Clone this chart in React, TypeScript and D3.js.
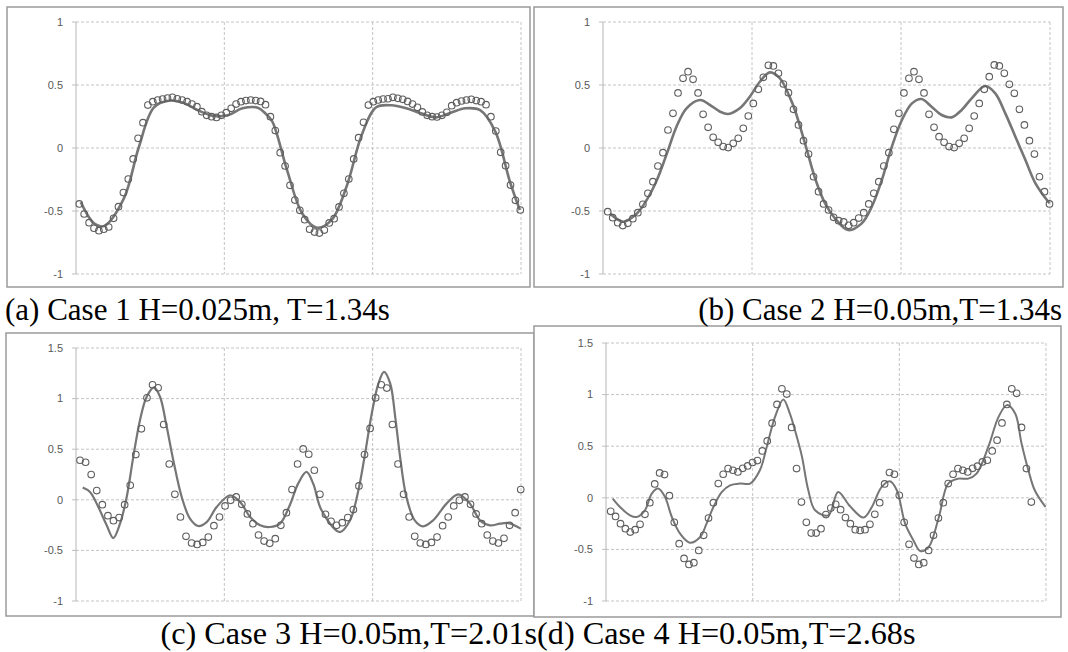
import React from 'react';
import * as d3 from 'd3';

// measured values (circles) and model curve (line) for the four cases
const caseOneObs = [
  -0.444, -0.524, -0.593, -0.637, -0.656, -0.645, -0.627, -0.558, -0.466, -0.354,
  -0.246, -0.087, 0.077, 0.201, 0.341, 0.368, 0.381, 0.389, 0.397, 0.402,
  0.391, 0.381, 0.368, 0.349, 0.328, 0.288, 0.259, 0.249, 0.243, 0.259,
  0.28, 0.315, 0.349, 0.368, 0.376, 0.381, 0.376, 0.37, 0.344, 0.249,
  0.138, -0.037, -0.143, -0.296, -0.413, -0.495, -0.569, -0.645, -0.667, -0.675,
  -0.651, -0.595, -0.561, -0.468, -0.36, -0.246, -0.087, 0.082, 0.204, 0.341,
  0.368, 0.381, 0.389, 0.391, 0.402, 0.394, 0.386, 0.37, 0.349, 0.323,
  0.286, 0.259, 0.249, 0.246, 0.259, 0.283, 0.336, 0.36, 0.373, 0.381,
  0.386, 0.376, 0.368, 0.344, 0.249, 0.135, -0.034, -0.14, -0.294, -0.415,
  -0.492,
];
const caseOneModel: [number, number][] = [
  [0.3, -0.43], [3.0, -0.598], [5.0, -0.62], [9.1, -0.4], [12.1, 0.0], [15.2, 0.32],
  [18.2, 0.375], [21.2, 0.36], [24.2, 0.3], [27.3, 0.255], [30.3, 0.26], [33.3, 0.315],
  [36.4, 0.32], [38.1, 0.27], [39.4, 0.21], [42.4, -0.175], [45.5, -0.52], [48.5, -0.633],
  [51.5, -0.571], [54.6, -0.3], [57.6, 0.1], [60.6, 0.323], [63.7, 0.339], [66.7, 0.315],
  [69.7, 0.275], [72.7, 0.243], [75.8, 0.28], [78.8, 0.315], [81.8, 0.3], [84.9, 0.13],
  [87.9, -0.27], [89.9, -0.492],
];

const caseTwoObs = [
  -0.505, -0.553, -0.593, -0.616, -0.598, -0.561, -0.513, -0.447, -0.36, -0.267,
  -0.143, -0.037, 0.143, 0.275, 0.437, 0.553, 0.606, 0.545, 0.437, 0.267,
  0.164, 0.085, 0.045, 0.011, 0.003, 0.037, 0.077, 0.156, 0.254, 0.354,
  0.466, 0.561, 0.656, 0.651, 0.593, 0.508, 0.439, 0.307, 0.183, 0.058,
  -0.048, -0.228, -0.347, -0.444, -0.492, -0.55, -0.577, -0.587, -0.614, -0.593,
  -0.556, -0.513, -0.444, -0.36, -0.267, -0.143, -0.037, 0.148, 0.275, 0.437,
  0.553, 0.606, 0.545, 0.437, 0.267, 0.164, 0.09, 0.045, 0.011, 0.003,
  0.037, 0.077, 0.156, 0.254, 0.354, 0.466, 0.566, 0.659, 0.651, 0.593,
  0.505, 0.434, 0.307, 0.183, 0.058, -0.048, -0.228, -0.347, -0.444,
];
const caseTwoModel: [number, number][] = [
  [0.46, -0.52], [3.1, -0.585], [5.8, -0.52], [7.8, -0.41], [9.8, -0.254], [11.8, -0.042],
  [13.7, 0.169], [15.7, 0.315], [18.4, 0.381], [20.4, 0.341], [22.4, 0.288], [24.0, 0.27],
  [26.3, 0.315], [28.3, 0.407], [30.3, 0.526], [32.3, 0.6], [34.3, 0.553], [36.3, 0.4],
  [37.3, 0.3], [39.3, 0.037], [41.3, -0.24], [43.3, -0.44], [45.3, -0.56], [47.9, -0.651],
  [50.6, -0.598], [52.6, -0.466], [54.6, -0.254], [56.6, 0.011], [58.6, 0.222], [60.6, 0.354],
  [62.5, 0.389], [64.5, 0.328], [66.5, 0.262], [68.5, 0.243], [70.5, 0.302], [72.5, 0.394],
  [75.2, 0.492], [77.2, 0.434], [79.2, 0.275], [81.2, 0.09], [83.2, -0.095], [85.2, -0.28],
  [88.0, -0.439],
];

const caseThreeObs = [
  0.391, 0.371, 0.249, 0.091, -0.048, -0.157, -0.206, -0.176, -0.048, 0.144,
  0.447, 0.701, 1.008, 1.137, 1.107, 0.744, 0.354, 0.054, -0.17, -0.361,
  -0.427, -0.441, -0.421, -0.368, -0.256, -0.17, -0.061, -0.005, 0.028, -0.045,
  -0.14, -0.236, -0.348, -0.408, -0.43, -0.384, -0.252, -0.127, 0.101, 0.354,
  0.503, 0.45, 0.292, 0.054, -0.144, -0.213, -0.252, -0.226, -0.176, -0.097,
  0.137, 0.447, 0.705, 1.008, 1.137, 1.104, 0.744, 0.354, 0.054, -0.17,
  -0.361, -0.427, -0.441, -0.421, -0.368, -0.256, -0.17, -0.061, -0.005, 0.028,
  -0.045, -0.14, -0.236, -0.348, -0.408, -0.427, -0.381, -0.252, -0.127, 0.101,
];
const caseThreeModel: [number, number][] = [
  [0.48, 0.121], [1.79, 0.077], [3.28, -0.071], [4.78, -0.252], [5.97, -0.378], [7.17, -0.236],
  [8.37, 0.028], [9.55, 0.424], [10.75, 0.787], [11.95, 1.018], [13.26, 1.111], [14.34, 1.018],
  [15.54, 0.721], [16.72, 0.391], [18.23, 0.028], [19.71, -0.186], [21.2, -0.259], [22.7, -0.22],
  [24.5, -0.071], [26.9, 0.045], [28.7, -0.022], [30.5, -0.17], [32.3, -0.252], [34.05, -0.269],
  [35.84, -0.236], [37.6, -0.054], [39.1, 0.16], [40.6, 0.275], [41.8, 0.16], [43.3, -0.104],
  [46.6, -0.319], [48.4, -0.203], [49.9, 0.094], [51.1, 0.457], [52.3, 0.853], [53.5, 1.15],
  [54.5, 1.265], [55.6, 1.15], [56.5, 0.82], [57.3, 0.457], [58.5, 0.028], [60.0, -0.203],
  [61.5, -0.262], [63.3, -0.203], [65.7, -0.038], [67.8, 0.054], [69.9, -0.038], [71.7, -0.203],
  [73.5, -0.252], [75.3, -0.236], [76.8, -0.23], [79.0, -0.285],
];

const caseFourObs = [
  -0.131, -0.18, -0.251, -0.299, -0.332, -0.309, -0.257, -0.16, -0.047, 0.134,
  0.241, 0.225, 0.021, -0.238, -0.445, -0.587, -0.646, -0.629, -0.51, -0.364,
  -0.196, -0.047, 0.138, 0.228, 0.283, 0.267, 0.251, 0.286, 0.309, 0.342,
  0.361, 0.454, 0.551, 0.723, 0.905, 1.056, 1.005, 0.682, 0.283, -0.041,
  -0.238, -0.342, -0.342, -0.299, -0.163, -0.099, -0.063, -0.115, -0.192, -0.251,
  -0.309, -0.316, -0.309, -0.257, -0.16, -0.047, 0.134, 0.245, 0.228, 0.024,
  -0.238, -0.451, -0.584, -0.646, -0.629, -0.51, -0.364, -0.196, -0.047, 0.138,
  0.228, 0.283, 0.267, 0.251, 0.286, 0.306, 0.348, 0.364, 0.454, 0.558,
  0.726, 0.905, 1.056, 1.012, 0.682, 0.283, -0.041,
];
const caseFourModel: [number, number][] = [
  [0.41, -0.008], [1.9, -0.089], [3.95, -0.17], [5.3, -0.186], [7.0, -0.121], [8.4, 0.041],
  [9.7, 0.089], [11.1, 0.008], [12.5, -0.186], [14.2, -0.348], [16.2, -0.435], [18.3, -0.38],
  [19.6, -0.25], [21.0, -0.089], [22.7, 0.056], [24.4, 0.121], [26.4, 0.138], [28.5, 0.138],
  [30.5, 0.267], [31.9, 0.493], [33.6, 0.784], [35.3, 0.953], [36.6, 0.82], [38.0, 0.6],
  [39.1, 0.4], [40.4, 0.073], [41.8, -0.121], [44.5, -0.17], [46.5, 0.056], [48.9, -0.08],
  [51.7, -0.192], [53.4, -0.089], [55.4, 0.105], [57.1, 0.16], [58.5, 0.073], [60.2, -0.25],
  [61.9, -0.413], [63.3, -0.516], [65.0, -0.478], [67.1, -0.186], [69.0, 0.138], [71.1, 0.186],
  [73.1, 0.186], [74.8, 0.235], [77.2, 0.493], [79.3, 0.784], [81.0, 0.898], [82.7, 0.817],
  [84.0, 0.526], [85.4, 0.267], [86.7, 0.073], [88.9, -0.089],
];

const yTicksSmall = [-1, -0.5, 0, 0.5, 1];
const yTicksLarge = [-1, -0.5, 0, 0.5, 1, 1.5];

const captionA = '(a) Case 1 H=0.025m, T=1.34s';
const captionB = '(b) Case 2 H=0.05m,T=1.34s';
const captionCD = '(c) Case 3 H=0.05m,T=2.01s(d) Case 4 H=0.05m,T=2.68s';

type Box = { x0: number; y0: number; x1: number; y1: number };

type PanelProps = {
  frame: Box;
  plot: Box;
  xDomain: [number, number];
  yTicks: number[];
  obs: number[];
  model: [number, number][];
  lineWidth: number;
};

const Panel = ({ frame, plot, xDomain, yTicks, obs, model, lineWidth }: PanelProps) => {
  const x = d3.scaleLinear().domain(xDomain).range([plot.x0, plot.x1]);
  const y = d3
    .scaleLinear()
    .domain([yTicks[0], yTicks[yTicks.length - 1]])
    .range([plot.y1, plot.y0]);

  const line = d3
    .line<[number, number]>()
    .x((d) => x(d[0]))
    .y((d) => y(d[1]))
    .curve(d3.curveCatmullRom.alpha(0.5));

  const vLines = d3.range(1, 4).map((k) => plot.x0 + (k * (plot.x1 - plot.x0)) / 3);

  return (
    <g>
      <rect
        x={frame.x0}
        y={frame.y0}
        width={frame.x1 - frame.x0}
        height={frame.y1 - frame.y0}
        fill="#fff"
        stroke="#9a9a9a"
        strokeWidth={1.5}
      />
      {yTicks.map((t) => (
        <g key={t}>
          <line
            x1={plot.x0 - 4}
            x2={plot.x0}
            y1={y(t)}
            y2={y(t)}
            stroke="#bfbfbf"
          />
          <line
            x1={plot.x0}
            x2={plot.x1}
            y1={y(t)}
            y2={y(t)}
            stroke="#c4c4c4"
            strokeDasharray="3,2"
          />
          <text
            x={plot.x0 - 13}
            y={y(t)}
            dy="0.35em"
            textAnchor="end"
            fontFamily="'Liberation Sans', Arial, sans-serif"
            fontSize={11}
            fill="#595959"
          >
            {t}
          </text>
        </g>
      ))}
      {vLines.map((vx) => (
        <line
          key={vx}
          x1={vx}
          x2={vx}
          y1={plot.y0}
          y2={plot.y1}
          stroke="#c4c4c4"
          strokeDasharray="3,2"
        />
      ))}
      <line x1={plot.x0} x2={plot.x0} y1={plot.y0} y2={plot.y1} stroke="#b5b5b5" />
      <path d={line(model) ?? ''} fill="none" stroke="#767676" strokeWidth={lineWidth} />
      {obs.map((v, i) => (
        <circle
          key={i}
          cx={x(i)}
          cy={y(v)}
          r={3.3}
          fill="none"
          stroke="#5e5e5e"
          strokeWidth={1.1}
        />
      ))}
    </g>
  );
};

export default function App() {
  const serif = "'Liberation Serif', 'Times New Roman', serif";
  return (
    <svg
      width={1068}
      height={652}
      style={{ position: 'absolute', left: 0, top: 0, background: '#fff' }}
    >
      <rect width={1068} height={652} fill="#fff" />
      <Panel
        frame={{ x0: 7, y0: 7, x1: 530, y1: 287 }}
        plot={{ x0: 76, y0: 22, x1: 521, y1: 274 }}
        xDomain={[-0.67, 90.14]}
        yTicks={yTicksSmall}
        obs={caseOneObs}
        model={caseOneModel}
        lineWidth={2.6}
      />
      <Panel
        frame={{ x0: 534, y0: 7, x1: 1063, y1: 287 }}
        plot={{ x0: 603, y0: 22, x1: 1050, y1: 274 }}
        xDomain={[-0.94, 88.1]}
        yTicks={yTicksSmall}
        obs={caseTwoObs}
        model={caseTwoModel}
        lineWidth={2.6}
      />
      <Panel
        frame={{ x0: 6, y0: 333, x1: 534, y1: 616 }}
        plot={{ x0: 76, y0: 348, x1: 521, y1: 601 }}
        xDomain={[-0.72, 79.05]}
        yTicks={yTicksLarge}
        obs={caseThreeObs}
        model={caseThreeModel}
        lineWidth={2.2}
      />
      <Panel
        frame={{ x0: 534, y0: 326, x1: 1061, y1: 617 }}
        plot={{ x0: 606, y0: 343, x1: 1046, y1: 601 }}
        xDomain={[-0.96, 89.0]}
        yTicks={yTicksLarge}
        obs={caseFourObs}
        model={caseFourModel}
        lineWidth={2}
      />
      <text x={5} y={320} fontFamily={serif} fontSize={31} fill="#000">
        {captionA}
      </text>
      <text x={1062} y={320} textAnchor="end" fontFamily={serif} fontSize={31} fill="#000">
        {captionB}
      </text>
      <text
        x={538}
        y={644}
        textAnchor="middle"
        fontFamily={serif}
        fontSize={31}
        fill="#000"
        textLength={755}
        lengthAdjust="spacingAndGlyphs"
      >
        {captionCD}
      </text>
    </svg>
  );
}
